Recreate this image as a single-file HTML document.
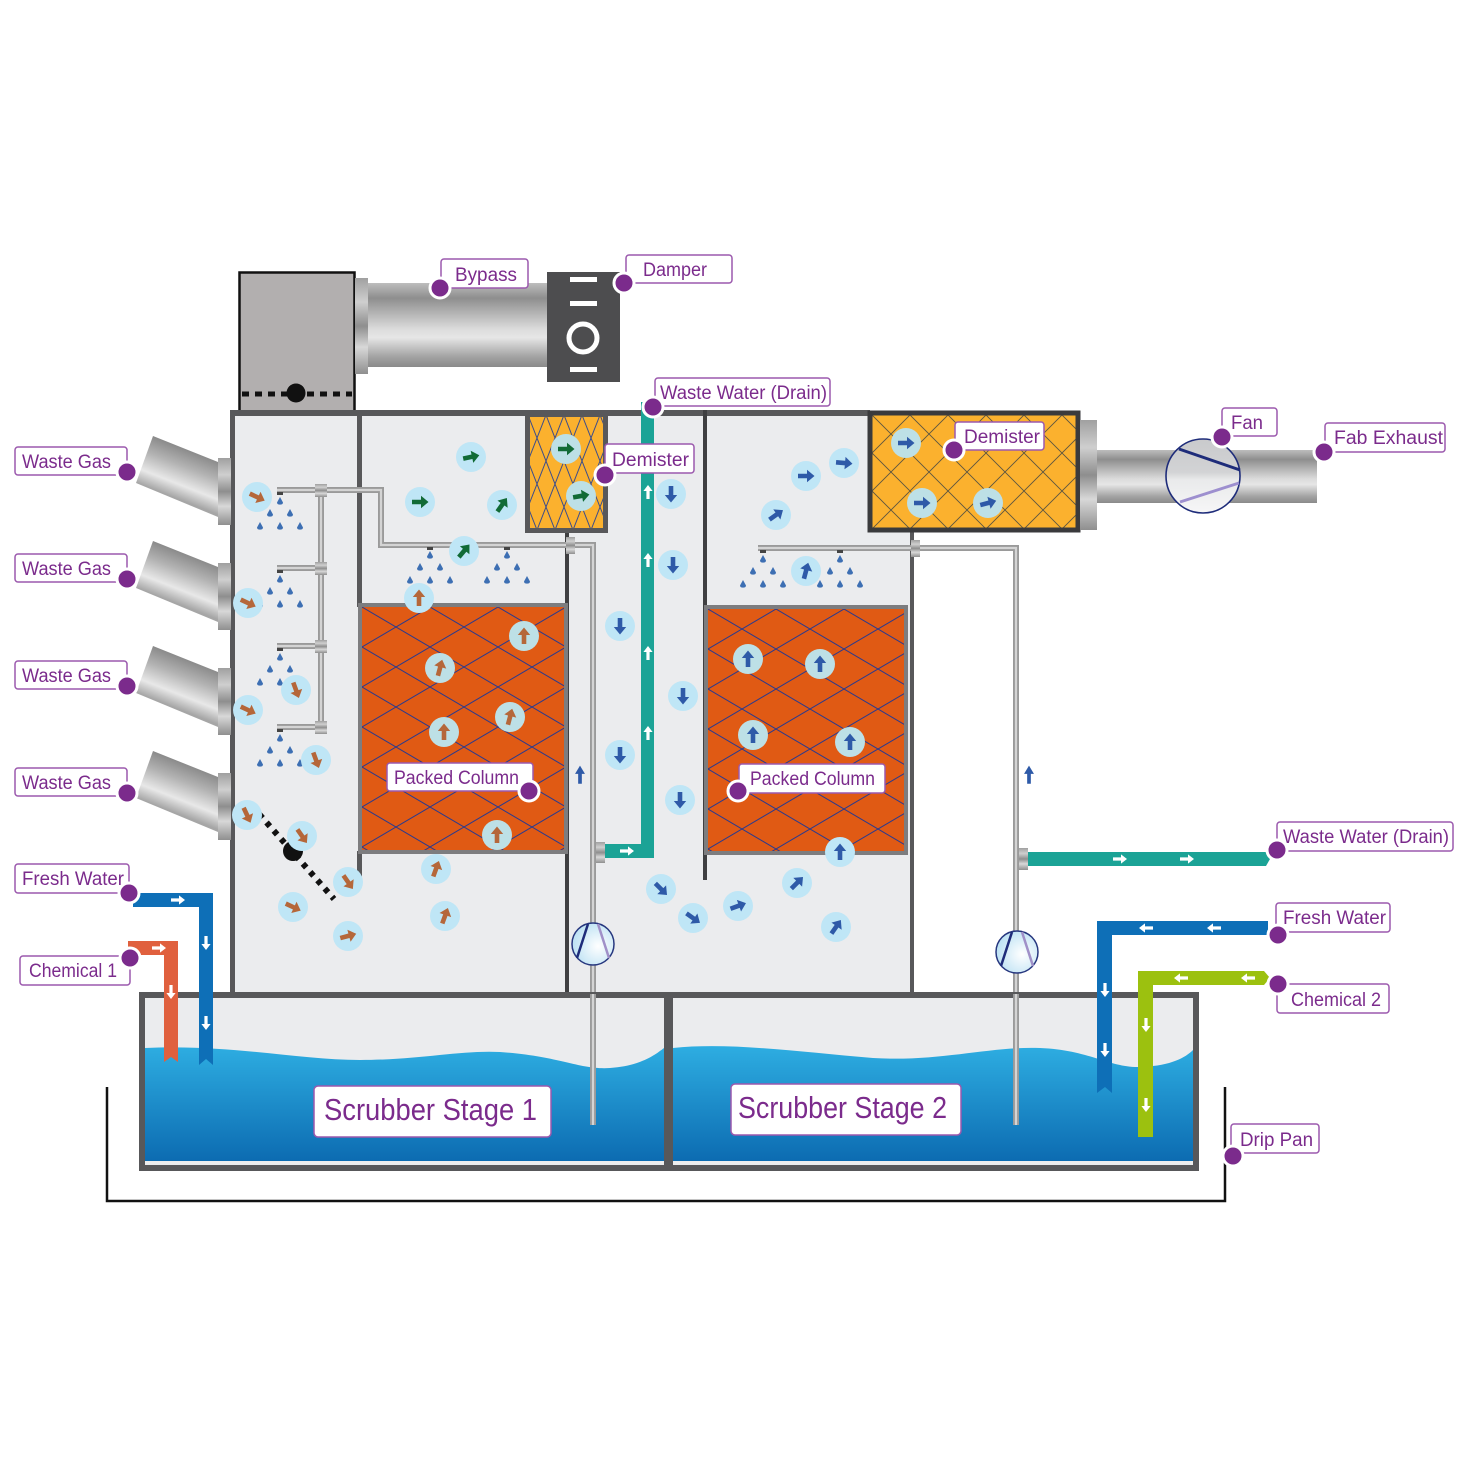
<!DOCTYPE html>
<html><head><meta charset="utf-8"><style>html,body{margin:0;padding:0;background:#fff}svg{display:block}</style></head>
<body>
<svg width="1468" height="1468" viewBox="0 0 1468 1468" xmlns="http://www.w3.org/2000/svg" xmlns:xlink="http://www.w3.org/1999/xlink" font-family="'Liberation Sans', sans-serif">
<defs>
<linearGradient id="gDuct" x1="0" y1="0" x2="0" y2="1">
<stop offset="0" stop-color="#bdbdbd"/><stop offset="0.18" stop-color="#8e8e8e"/><stop offset="0.55" stop-color="#dcdcdc"/><stop offset="0.65" stop-color="#e6e6e6"/><stop offset="0.88" stop-color="#a2a2a2"/><stop offset="1" stop-color="#8a8a8a"/>
</linearGradient>
<linearGradient id="gFl" x1="0" y1="0" x2="0" y2="1">
<stop offset="0" stop-color="#a0a0a0"/><stop offset="0.25" stop-color="#cfcfcf"/><stop offset="0.5" stop-color="#8e8e8e"/><stop offset="0.72" stop-color="#d8d8d8"/><stop offset="1" stop-color="#8f8f8f"/>
</linearGradient>
<linearGradient id="gIn" gradientUnits="userSpaceOnUse" x1="153" y1="436" x2="135" y2="482">
<stop offset="0" stop-color="#8a8a8a"/><stop offset="0.35" stop-color="#b3b3b3"/><stop offset="0.72" stop-color="#e8e8e8"/><stop offset="1" stop-color="#a6a6a6"/>
</linearGradient>
<linearGradient id="gW" gradientUnits="userSpaceOnUse" x1="0" y1="1045" x2="0" y2="1162">
<stop offset="0" stop-color="#2eaee2"/><stop offset="1" stop-color="#0c6bb1"/>
</linearGradient>
<radialGradient id="gPump" cx="0.62" cy="0.55" r="0.65">
<stop offset="0" stop-color="#ffffff"/><stop offset="1" stop-color="#b9e0f3"/>
</radialGradient>
<linearGradient id="gFan" x1="0" y1="0" x2="0" y2="1">
<stop offset="0" stop-color="#c9cacc"/><stop offset="0.45" stop-color="#d2d3d5"/><stop offset="0.55" stop-color="#e9eaeb"/><stop offset="1" stop-color="#f6f6f7"/>
</linearGradient>
<pattern id="pk1" patternUnits="userSpaceOnUse" x="362" y="607" width="68" height="40">
<rect width="68" height="40" fill="#e05a14"/><path d="M0,0 L68,40 M0,40 L68,0" stroke="#2d3a8c" stroke-width="1"/>
</pattern>
<pattern id="pk2" patternUnits="userSpaceOnUse" x="708" y="609" width="68" height="40">
<rect width="68" height="40" fill="#e05a14"/><path d="M0,0 L68,40 M0,40 L68,0" stroke="#2d3a8c" stroke-width="1"/>
</pattern>
<pattern id="dm1" patternUnits="userSpaceOnUse" x="528" y="415" width="18" height="46">
<rect width="18" height="46" fill="#fbb12e"/><path d="M0,0 L18,46 M0,46 L18,0" stroke="#3d4d8a" stroke-width="1"/>
</pattern>
<pattern id="dm2" patternUnits="userSpaceOnUse" x="872" y="415" width="38" height="38">
<rect width="38" height="38" fill="#fbb12e"/><path d="M0,0 L38,38 M0,38 L38,0" stroke="#5b5540" stroke-width="0.9"/>
</pattern>
<path id="ar" d="M-8,-2.3 L1,-2.3 L1,-6.2 L8.5,0 L1,6.2 L1,2.3 L-8,2.3 Z"/>
<path id="wa" d="M-7,-1.6 L1,-1.6 L1,-4.6 L7,0 L1,4.6 L1,1.6 L-7,1.6 Z" fill="#fff"/>
<path id="dr" d="M0,-4 L3,1.5 Q3,3.6 0,3.6 Q-3,3.6 -3,1.5 Z" fill="#3d6fb3"/>
</defs>

<!-- bypass box -->
<rect x="239.5" y="272.5" width="115" height="140" fill="#b2afaf" stroke="#111" stroke-width="2.5"/>
<line x1="242" y1="394" x2="352" y2="394" stroke="#111" stroke-width="5" stroke-dasharray="7,6"/>
<circle cx="296" cy="393" r="9.5" fill="#111"/>
<rect x="355" y="278" width="13" height="96" fill="url(#gFl)"/>
<rect x="368" y="283" width="180" height="84" fill="url(#gDuct)"/>
<rect x="547" y="272" width="73" height="110" fill="#4d4d4f"/>
<rect x="570" y="277" width="27" height="5" fill="#fff"/>
<rect x="570" y="301" width="27" height="5" fill="#fff"/>
<rect x="570" y="367" width="27" height="5" fill="#fff"/>
<circle cx="583" cy="338" r="14" fill="none" stroke="#fff" stroke-width="5"/>

<!-- housing -->
<rect x="231" y="412" width="681" height="582" fill="#ebecee"/>
<rect x="230" y="410" width="640" height="6" fill="#58585a"/>
<rect x="230" y="410" width="5" height="585" fill="#58585a"/>
<rect x="357" y="410" width="5" height="197" fill="#58585a"/>
<rect x="357" y="851" width="5" height="32" fill="#58585a"/>
<rect x="565" y="530" width="4" height="464" fill="#3f3f41"/>
<rect x="703" y="410" width="4" height="470" fill="#3f3f41"/>
<rect x="910" y="528" width="4" height="467" fill="#58585a"/>

<!-- demisters -->
<rect x="527.5" y="414.5" width="78" height="116" fill="url(#dm1)" stroke="#58585a" stroke-width="5"/>
<rect x="870" y="413" width="208" height="117" fill="url(#dm2)" stroke="#3a3a3c" stroke-width="5"/>
<rect x="1080" y="420" width="17" height="110" fill="url(#gFl)"/>
<rect x="1097" y="450" width="220" height="53" fill="url(#gDuct)"/>
<ellipse cx="1203" cy="476" rx="37" ry="37" fill="url(#gFan)" stroke="#1e2c7a" stroke-width="1.6"/>
<line x1="1179" y1="449" x2="1240" y2="470" stroke="#1e2c7a" stroke-width="3"/>
<line x1="1180" y1="502" x2="1239" y2="483" stroke="#9d8fcf" stroke-width="3"/>

<!-- packed columns -->
<rect x="360" y="605" width="206" height="247" fill="url(#pk1)" stroke="#7d7d7f" stroke-width="4"/>
<rect x="706" y="607" width="200" height="246" fill="url(#pk2)" stroke="#7d7d7f" stroke-width="4"/>

<!-- inlets -->
<g id="inl">
<polygon points="153,436 218,462 218,517 136,483" fill="url(#gIn)"/>
<rect x="218" y="458" width="13" height="67" fill="url(#gFl)"/>
</g>
<use xlink:href="#inl" transform="translate(0,105)"/>
<use xlink:href="#inl" transform="translate(0,210)"/>
<use xlink:href="#inl" transform="translate(0,315)"/>

<!-- spray pipes -->
<g fill="none" stroke-linejoin="miter">
<path d="M277,490 H381 V545 H593 V1125 M321,490 V730 M277,568 H321 M277,646 H321 M277,727 H321" stroke="#9a9a9a" stroke-width="6"/>
<path d="M277,490 H381 V545 H593 V1125 M321,490 V730 M277,568 H321 M277,646 H321 M277,727 H321" stroke="#d4d4d4" stroke-width="2.2"/>
<path d="M758,548 H1016 V1125" stroke="#9a9a9a" stroke-width="6"/>
<path d="M758,548 H1016 V1125" stroke="#d4d4d4" stroke-width="2.2"/>
</g>
<g fill="url(#gFl)">
<rect x="315" y="484" width="12" height="13"/><rect x="315" y="562" width="12" height="13"/>
<rect x="315" y="640" width="12" height="13"/><rect x="315" y="721" width="12" height="13"/>
<rect x="566" y="537" width="9" height="17"/><rect x="911" y="540" width="9" height="17"/>
</g>
<g fill="#444">
<rect x="277" y="492" width="6" height="3"/><rect x="277" y="570" width="6" height="3"/>
<rect x="277" y="648" width="6" height="3"/><rect x="277" y="729" width="6" height="3"/>
<rect x="427" y="547" width="6" height="3"/><rect x="504" y="547" width="6" height="3"/>
<rect x="760" y="550" width="6" height="3"/><rect x="837" y="550" width="6" height="3"/>
</g>
<!-- drops -->
<g id="pyr">
<use xlink:href="#dr" x="280" y="501"/><use xlink:href="#dr" x="270" y="513"/><use xlink:href="#dr" x="290" y="513"/>
<use xlink:href="#dr" x="260" y="526"/><use xlink:href="#dr" x="280" y="526"/><use xlink:href="#dr" x="300" y="526"/>
</g>
<use xlink:href="#pyr" transform="translate(0,78)"/>
<use xlink:href="#pyr" transform="translate(0,156)"/>
<use xlink:href="#pyr" transform="translate(0,237)"/>
<use xlink:href="#pyr" transform="translate(150,54)"/>
<use xlink:href="#pyr" transform="translate(227,54)"/>
<use xlink:href="#pyr" transform="translate(483,58)"/>
<use xlink:href="#pyr" transform="translate(560,58)"/>

<!-- damper diagonal -->
<line x1="252" y1="806" x2="334" y2="899" stroke="#111" stroke-width="6" stroke-dasharray="5,6"/>
<circle cx="293" cy="851" r="10" fill="#111"/>

<!-- middle teal pipe -->
<rect x="641" y="402" width="13" height="456" fill="#1ba396"/>
<rect x="603" y="844" width="51" height="14" fill="#1ba396"/>
<rect x="596" y="842" width="9" height="21" fill="url(#gFl)"/>
<use xlink:href="#wa" transform="translate(648,492) rotate(-90)"/>
<use xlink:href="#wa" transform="translate(648,560) rotate(-90)"/>
<use xlink:href="#wa" transform="translate(648,653) rotate(-90)"/>
<use xlink:href="#wa" transform="translate(648,733) rotate(-90)"/>
<use xlink:href="#wa" transform="translate(627,851)"/>

<!-- right teal -->
<polygon points="1028,852 1266,852 1270,859 1266,866 1028,866" fill="#1ba396"/>
<rect x="1019" y="848" width="9" height="22" fill="url(#gFl)"/>
<use xlink:href="#wa" transform="translate(1120,859)"/>
<use xlink:href="#wa" transform="translate(1187,859)"/>

<!-- small blue arrows -->
<use xlink:href="#ar" transform="translate(580,775) rotate(-90) scale(1.1,0.8)" fill="#2e5aa8"/>
<use xlink:href="#ar" transform="translate(1029,775) rotate(-90) scale(1.1,0.8)" fill="#2e5aa8"/>

<!-- pumps -->
<circle cx="593" cy="944" r="21" fill="url(#gPump)" stroke="#27377f" stroke-width="1.5"/>
<line x1="577" y1="958" x2="588" y2="924" stroke="#1e2c7a" stroke-width="2.5"/>
<line x1="598" y1="924" x2="609" y2="958" stroke="#a090c8" stroke-width="2.5"/>
<circle cx="1017" cy="952" r="21" fill="url(#gPump)" stroke="#27377f" stroke-width="1.5"/>
<line x1="1001" y1="966" x2="1012" y2="932" stroke="#1e2c7a" stroke-width="2.5"/>
<line x1="1022" y1="932" x2="1033" y2="966" stroke="#a090c8" stroke-width="2.5"/>

<!-- circles: brown left chamber -->
<g>
<g transform="translate(257,497)"><circle r="15" fill="#bfe6f6"/><use xlink:href="#ar" transform="rotate(25)" fill="#b5673a"/></g>
<g transform="translate(248,603)"><circle r="15" fill="#bfe6f6"/><use xlink:href="#ar" transform="rotate(25)" fill="#b5673a"/></g>
<g transform="translate(248,710)"><circle r="15" fill="#bfe6f6"/><use xlink:href="#ar" transform="rotate(25)" fill="#b5673a"/></g>
<g transform="translate(296,690)"><circle r="15" fill="#bfe6f6"/><use xlink:href="#ar" transform="rotate(70)" fill="#b5673a"/></g>
<g transform="translate(316,760)"><circle r="15" fill="#bfe6f6"/><use xlink:href="#ar" transform="rotate(70)" fill="#b5673a"/></g>
<g transform="translate(247,815)"><circle r="15" fill="#bfe6f6"/><use xlink:href="#ar" transform="rotate(65)" fill="#b5673a"/></g>
<g transform="translate(302,836)"><circle r="15" fill="#bfe6f6"/><use xlink:href="#ar" transform="rotate(55)" fill="#b5673a"/></g>
<g transform="translate(348,882)"><circle r="15" fill="#bfe6f6"/><use xlink:href="#ar" transform="rotate(55)" fill="#b5673a"/></g>
<g transform="translate(293,907)"><circle r="15" fill="#bfe6f6"/><use xlink:href="#ar" transform="rotate(25)" fill="#b5673a"/></g>
<g transform="translate(348,936)"><circle r="15" fill="#bfe6f6"/><use xlink:href="#ar" transform="rotate(-15)" fill="#b5673a"/></g>
</g>
<!-- green -->
<g>
<g transform="translate(471,457)"><circle r="15" fill="#bfe6f6"/><use xlink:href="#ar" transform="rotate(-12)" fill="#116b36"/></g>
<g transform="translate(420,502)"><circle r="15" fill="#bfe6f6"/><use xlink:href="#ar" fill="#116b36"/></g>
<g transform="translate(502,505)"><circle r="15" fill="#bfe6f6"/><use xlink:href="#ar" transform="rotate(-55)" fill="#116b36"/></g>
<g transform="translate(464,551)"><circle r="15" fill="#bfe6f6"/><use xlink:href="#ar" transform="rotate(-50)" fill="#116b36"/></g>
<g transform="translate(566,449)"><circle r="15" fill="#bde0e6"/><use xlink:href="#ar" fill="#116b36"/></g>
<g transform="translate(581,496)"><circle r="15" fill="#bde0e6"/><use xlink:href="#ar" transform="rotate(-10)" fill="#116b36"/></g>
</g>
<!-- brown up packed 1 -->
<g>
<g transform="translate(419,598)"><circle r="15" fill="#bfe6f6"/><use xlink:href="#ar" transform="rotate(-90)" fill="#b5673a"/></g>
<g transform="translate(524,636)"><circle r="15" fill="#bde0e6"/><use xlink:href="#ar" transform="rotate(-90)" fill="#b5673a"/></g>
<g transform="translate(440,668)"><circle r="15" fill="#bde0e6"/><use xlink:href="#ar" transform="rotate(-75)" fill="#b5673a"/></g>
<g transform="translate(444,732)"><circle r="15" fill="#bde0e6"/><use xlink:href="#ar" transform="rotate(-90)" fill="#b5673a"/></g>
<g transform="translate(510,717)"><circle r="15" fill="#bde0e6"/><use xlink:href="#ar" transform="rotate(-75)" fill="#b5673a"/></g>
<g transform="translate(497,835)"><circle r="15" fill="#bde0e6"/><use xlink:href="#ar" transform="rotate(-90)" fill="#b5673a"/></g>
<g transform="translate(436,869)"><circle r="15" fill="#bfe6f6"/><use xlink:href="#ar" transform="rotate(-70)" fill="#b5673a"/></g>
<g transform="translate(445,916)"><circle r="15" fill="#bfe6f6"/><use xlink:href="#ar" transform="rotate(-70)" fill="#b5673a"/></g>
</g>
<!-- blue -->
<g fill="#2e5aa8">
<g transform="translate(671,494)"><circle r="15" fill="#bfe6f6"/><use xlink:href="#ar" transform="rotate(90)"/></g>
<g transform="translate(673,565)"><circle r="15" fill="#bfe6f6"/><use xlink:href="#ar" transform="rotate(90)"/></g>
<g transform="translate(620,626)"><circle r="15" fill="#bfe6f6"/><use xlink:href="#ar" transform="rotate(90)"/></g>
<g transform="translate(683,696)"><circle r="15" fill="#bfe6f6"/><use xlink:href="#ar" transform="rotate(90)"/></g>
<g transform="translate(620,755)"><circle r="15" fill="#bfe6f6"/><use xlink:href="#ar" transform="rotate(90)"/></g>
<g transform="translate(680,800)"><circle r="15" fill="#bfe6f6"/><use xlink:href="#ar" transform="rotate(90)"/></g>
<g transform="translate(661,889)"><circle r="15" fill="#bfe6f6"/><use xlink:href="#ar" transform="rotate(45)"/></g>
<g transform="translate(693,918)"><circle r="15" fill="#bfe6f6"/><use xlink:href="#ar" transform="rotate(35)"/></g>
<g transform="translate(738,906)"><circle r="15" fill="#bfe6f6"/><use xlink:href="#ar" transform="rotate(-20)"/></g>
<g transform="translate(797,883)"><circle r="15" fill="#bfe6f6"/><use xlink:href="#ar" transform="rotate(-45)"/></g>
<g transform="translate(836,927)"><circle r="15" fill="#bfe6f6"/><use xlink:href="#ar" transform="rotate(-55)"/></g>
<g transform="translate(840,852)"><circle r="15" fill="#bfe6f6"/><use xlink:href="#ar" transform="rotate(-90)"/></g>
<g transform="translate(806,476)"><circle r="15" fill="#bfe6f6"/><use xlink:href="#ar"/></g>
<g transform="translate(844,463)"><circle r="15" fill="#bfe6f6"/><use xlink:href="#ar" transform="rotate(5)"/></g>
<g transform="translate(776,515)"><circle r="15" fill="#bfe6f6"/><use xlink:href="#ar" transform="rotate(-35)"/></g>
<g transform="translate(806,571)"><circle r="15" fill="#bfe6f6"/><use xlink:href="#ar" transform="rotate(-75)"/></g>
<g transform="translate(748,659)"><circle r="15" fill="#bde0e6"/><use xlink:href="#ar" transform="rotate(-90)"/></g>
<g transform="translate(820,664)"><circle r="15" fill="#bde0e6"/><use xlink:href="#ar" transform="rotate(-90)"/></g>
<g transform="translate(753,735)"><circle r="15" fill="#bde0e6"/><use xlink:href="#ar" transform="rotate(-90)"/></g>
<g transform="translate(850,742)"><circle r="15" fill="#bde0e6"/><use xlink:href="#ar" transform="rotate(-90)"/></g>
<g transform="translate(906,443)"><circle r="15" fill="#bde0e6"/><use xlink:href="#ar"/></g>
<g transform="translate(922,503)"><circle r="15" fill="#bde0e6"/><use xlink:href="#ar"/></g>
<g transform="translate(988,503)"><circle r="15" fill="#bde0e6"/><use xlink:href="#ar" transform="rotate(-15)"/></g>
</g>

<!-- tanks -->
<rect x="142" y="995" width="525" height="173" fill="#ebecee" stroke="#58585a" stroke-width="6"/>
<rect x="670" y="995" width="526" height="173" fill="#ebecee" stroke="#58585a" stroke-width="6"/>
<path d="M145,1048 C230,1044 300,1060 360,1060 C420,1060 460,1050 500,1052 C560,1056 580,1070 610,1068 C640,1066 655,1055 664,1048 L664,1161 L145,1161 Z" fill="url(#gW)"/>
<path d="M673,1048 C730,1042 800,1052 873,1058 C940,1062 990,1046 1040,1048 C1090,1050 1110,1068 1140,1067 C1170,1066 1185,1058 1193,1050 L1193,1161 L673,1161 Z" fill="url(#gW)"/>
<rect x="145" y="1161" width="519" height="3" fill="#eeeeee"/>
<rect x="673" y="1161" width="520" height="3" fill="#eeeeee"/>

<!-- gray pipes into water (redraw lower part) -->
<path d="M593,994 V1125 M1016,994 V1125" stroke="#9a9a9a" stroke-width="6" fill="none"/>
<path d="M593,994 V1125 M1016,994 V1125" stroke="#d4d4d4" stroke-width="2.2" fill="none"/>

<!-- supply pipes -->
<path d="M133,893 H213 V1065 L206,1059 L199,1065 V907 H133 Z" fill="#0e6fb7"/>
<path d="M128,941 H178 V1062 L171,1057 L164,1062 V955 H128 Z" fill="#e0603e"/>
<use xlink:href="#wa" transform="translate(178,900)"/>
<use xlink:href="#wa" transform="translate(206,943) rotate(90)"/>
<use xlink:href="#wa" transform="translate(206,1023) rotate(90)"/>
<use xlink:href="#wa" transform="translate(159,948)"/>
<use xlink:href="#wa" transform="translate(171,992) rotate(90)"/>
<path d="M1268,921 H1097 V1093 L1105,1087 L1112,1093 V935 H1268 Z" fill="#0e6fb7"/>
<path d="M1264,971 L1270,978 L1264,985 H1153 V1137 H1138 V971 Z" fill="#9cc10f"/>
<use xlink:href="#wa" transform="translate(1146,928) rotate(180)"/>
<use xlink:href="#wa" transform="translate(1214,928) rotate(180)"/>
<use xlink:href="#wa" transform="translate(1105,990) rotate(90)"/>
<use xlink:href="#wa" transform="translate(1105,1050) rotate(90)"/>
<use xlink:href="#wa" transform="translate(1181,978) rotate(180)"/>
<use xlink:href="#wa" transform="translate(1248,978) rotate(180)"/>
<use xlink:href="#wa" transform="translate(1146,1025) rotate(90)"/>
<use xlink:href="#wa" transform="translate(1146,1105) rotate(90)"/>

<!-- drip pan -->
<path d="M107,1087 V1201 H1225 V1087" fill="none" stroke="#111" stroke-width="2.5"/>

<!-- labels -->
<g fill="#fff" stroke="#9b59ad" stroke-width="1.5">
<rect x="15" y="447" width="112" height="28" rx="3"/>
<rect x="15" y="554" width="112" height="28" rx="3"/>
<rect x="15" y="661" width="112" height="28" rx="3"/>
<rect x="15" y="768" width="112" height="28" rx="3"/>
<rect x="441" y="259" width="87" height="29" rx="3"/>
<rect x="626" y="255" width="106" height="28" rx="3"/>
<rect x="655" y="378" width="175" height="28" rx="3"/>
<rect x="605" y="444" width="89" height="29" rx="3"/>
<rect x="955" y="422" width="89" height="28" rx="3"/>
<rect x="1222" y="408" width="55" height="28" rx="3"/>
<rect x="1325" y="423" width="120" height="29" rx="3"/>
<rect x="15" y="864" width="114" height="29" rx="3"/>
<rect x="20" y="956" width="110" height="29" rx="3"/>
<rect x="387" y="763" width="146" height="28" rx="3"/>
<rect x="739" y="764" width="146" height="29" rx="3"/>
<rect x="1277" y="822" width="176" height="29" rx="3"/>
<rect x="1276" y="903" width="114" height="29" rx="3"/>
<rect x="1277" y="984" width="112" height="29" rx="3"/>
<rect x="1231" y="1124" width="88" height="29" rx="3"/>
<rect x="314" y="1086" width="237" height="51" rx="4"/>
<rect x="731" y="1084" width="230" height="51" rx="4"/>
</g>
<g fill="#7b2b8c" font-size="19">
<text x="22" y="468" textLength="89" lengthAdjust="spacingAndGlyphs">Waste Gas</text>
<text x="22" y="575" textLength="89" lengthAdjust="spacingAndGlyphs">Waste Gas</text>
<text x="22" y="682" textLength="89" lengthAdjust="spacingAndGlyphs">Waste Gas</text>
<text x="22" y="789" textLength="89" lengthAdjust="spacingAndGlyphs">Waste Gas</text>
<text x="455" y="281" textLength="62" lengthAdjust="spacingAndGlyphs">Bypass</text>
<text x="643" y="276" textLength="64" lengthAdjust="spacingAndGlyphs">Damper</text>
<text x="660" y="399" textLength="167" lengthAdjust="spacingAndGlyphs">Waste Water (Drain)</text>
<text x="612" y="466" textLength="77" lengthAdjust="spacingAndGlyphs">Demister</text>
<text x="964" y="443" textLength="76" lengthAdjust="spacingAndGlyphs">Demister</text>
<text x="1231" y="429" textLength="32" lengthAdjust="spacingAndGlyphs">Fan</text>
<text x="1334" y="444" textLength="109" lengthAdjust="spacingAndGlyphs">Fab Exhaust</text>
<text x="22" y="885" textLength="102" lengthAdjust="spacingAndGlyphs">Fresh Water</text>
<text x="29" y="977" textLength="88" lengthAdjust="spacingAndGlyphs">Chemical 1</text>
<text x="394" y="784" textLength="125" lengthAdjust="spacingAndGlyphs">Packed Column</text>
<text x="750" y="785" textLength="125" lengthAdjust="spacingAndGlyphs">Packed Column</text>
<text x="1283" y="843" textLength="166" lengthAdjust="spacingAndGlyphs">Waste Water (Drain)</text>
<text x="1283" y="924" textLength="103" lengthAdjust="spacingAndGlyphs">Fresh Water</text>
<text x="1291" y="1006" textLength="90" lengthAdjust="spacingAndGlyphs">Chemical 2</text>
<text x="1240" y="1146" textLength="73" lengthAdjust="spacingAndGlyphs">Drip Pan</text>
<text x="324" y="1120" font-size="31" textLength="213" lengthAdjust="spacingAndGlyphs">Scrubber Stage 1</text>
<text x="738" y="1118" font-size="31" textLength="209" lengthAdjust="spacingAndGlyphs">Scrubber Stage 2</text>
</g>
<g fill="#7b2b8c" stroke="#fff" stroke-width="3">
<circle cx="127" cy="472" r="10"/><circle cx="127" cy="579" r="10"/>
<circle cx="127" cy="686" r="10"/><circle cx="127" cy="793" r="10"/>
<circle cx="440" cy="288" r="10"/><circle cx="624" cy="283" r="10"/>
<circle cx="653" cy="407" r="10"/><circle cx="605" cy="475" r="10"/>
<circle cx="954" cy="450" r="10"/><circle cx="1222" cy="437" r="10"/>
<circle cx="1324" cy="452" r="10"/><circle cx="129" cy="893" r="10"/>
<circle cx="130" cy="958" r="10"/><circle cx="529" cy="791" r="10"/>
<circle cx="738" cy="791" r="10"/><circle cx="1277" cy="850" r="10"/>
<circle cx="1278" cy="935" r="10"/><circle cx="1278" cy="984" r="10"/>
<circle cx="1233" cy="1156" r="10"/>
</g>
</svg>
</body></html>
